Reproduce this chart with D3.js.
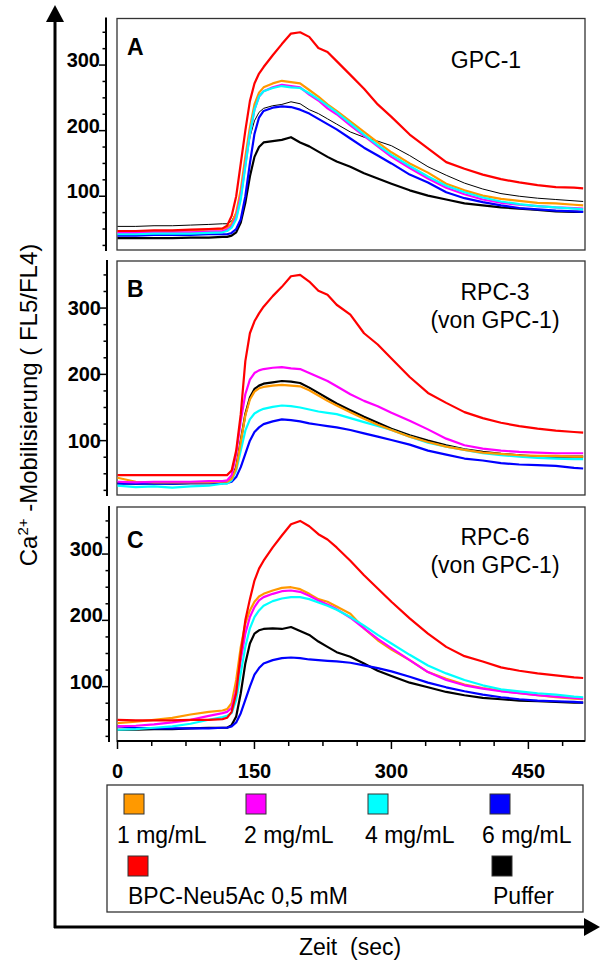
<!DOCTYPE html>
<html>
<head>
<meta charset="utf-8">
<script src="https://d3js.org/d3.v7.min.js"></script>
<style>
body { margin: 0; background: #fff; }
text { font-family: Arial, "Liberation Sans", sans-serif; fill: #000; }
</style>
</head>
<body>
<svg id="chart" width="600" height="963"></svg>
<script>
// time points (sec)
var zeit = [0,20,40,60,80,100,115,120,125,130,135,140,145,150,155,160,170,180,190,200,210,220,230,240,255,270,285,300,320,340,360,380,400,420,440,460,480,500,510];

// Panel A: GPC-1
var A_1mg  = [46,46,47,47,48,49,50,52,58,75,110,160,205,240,258,266,272,276,274,272,262,252,240,230,214,198,182,167,150,136,119,109,101,96,93,90,89,87,86];
var A_2mg  = [44,44,45,45,45,46,47,49,54,68,100,148,195,232,252,260,266,270,268,266,255,246,234,225,208,192,176,160,143,127,113,103,95,90,87,85,83,82,81];
var A_4mg  = [42,42,43,43,43,44,45,47,52,65,95,145,195,232,252,260,265,268,266,265,257,248,238,228,211,194,178,163,146,130,116,106,98,92,88,85,83,81,80];
var A_6mg  = [40,40,41,41,41,42,42,42,44,50,65,100,150,195,220,230,235,237,236,232,226,218,210,202,188,174,162,150,133,121,106,97,91,86,82,80,78,77,76];
var A_bpc  = [47,47,48,48,49,50,51,55,70,100,150,200,245,272,287,297,315,332,348,350,343,326,320,306,285,264,240,221,194,173,152,142,133,126,121,117,114,113,112];
var A_puffer  = [36,36,36,36,37,37,38,38,40,45,60,90,130,160,175,182,184,186,190,182,176,168,160,153,145,135,127,119,109,101,95,89,86,83,81,79,77,76,76];
var A_puffer2 = [54,54,55,55,56,57,58,58,62,75,105,150,190,215,228,234,238,240,244,241,232,226,218,210,198,190,184,177,162,145,132,120,111,104,100,97,95,93,92];

// Panel B: RPC-3 (von GPC-1)
var B_1mg  = [44,38,37,37,37,37,38,38,42,58,98,138,162,174,179,181,183,184,183,182,176,168,160,153,143,133,124,116,106,98,91,86,82,80,78,77,77,76,76];
var B_2mg  = [38,37,38,38,38,39,39,40,48,80,130,170,192,202,206,208,210,211,209,208,202,196,190,182,170,160,152,142,130,117,103,93,88,85,83,82,81,81,81];
var B_4mg  = [32,30,31,29,31,32,35,35,40,55,85,115,132,141,145,148,151,153,152,150,147,144,142,140,134,128,122,116,106,97,91,86,81,78,76,74,73,72,72];
var B_6mg  = [35,35,35,35,36,36,36,36,38,45,60,80,100,113,120,125,129,132,131,129,126,124,122,120,116,111,106,101,94,85,79,73,70,66,64,63,62,59,58];
var B_bpc  = [48,48,48,48,48,48,48,48,55,85,140,220,262,280,292,302,318,332,348,350,340,326,320,305,290,262,245,224,196,172,157,143,134,127,122,118,115,113,112];
var B_puffer = [36,35,36,35,36,36,36,37,42,60,100,140,165,178,183,186,188,190,189,187,180,172,164,156,146,136,127,118,108,100,93,87,83,80,78,76,76,76,76];

// Panel C: RPC-6 (von GPC-1)
var C_1mg  = [45,47,50,53,58,62,64,66,75,110,160,195,215,228,236,240,245,249,250,247,240,232,228,221,210,188,170,156,140,122,112,103,98,94,90,87,84,82,81];
var C_2mg  = [40,41,43,46,50,56,60,62,68,95,140,180,205,220,230,235,240,244,245,243,237,230,224,217,204,188,172,158,140,122,110,102,97,93,90,87,85,83,82];
var C_4mg  = [35,36,38,40,44,50,54,56,60,80,120,160,188,205,215,222,229,233,235,235,232,227,222,216,205,192,178,165,148,132,120,110,102,96,93,90,88,85,84];
var C_6mg  = [40,38,37,37,37,37,38,38,40,46,60,80,100,118,128,135,140,143,144,143,141,140,139,138,136,132,128,123,115,106,99,93,88,84,81,79,78,77,76];
var C_bpc  = [50,49,49,49,50,50,51,53,62,90,150,200,232,260,278,290,310,328,345,350,342,330,322,310,290,268,248,228,203,180,160,146,138,129,124,120,117,114,113];
var C_puffer = [35,35,36,36,37,38,38,38,42,55,90,135,165,180,185,187,188,187,190,184,178,168,160,152,145,135,124,116,106,99,92,87,83,81,79,78,77,76,76];

var yTicks = [100, 200, 300];
var xTicks = [0, 150, 300, 450];
var legendLabels = ['1 mg/mL', '2 mg/mL', '4 mg/mL', '6 mg/mL', 'BPC-Neu5Ac 0,5 mM', 'Puffer'];
var legendColors = ['#ff9900', '#ff00ff', '#00ffff', '#0000ff', '#ff0000', '#000000'];

var svg = d3.select('#chart');

// big outer axes
svg.append('line').attr('x1', 55).attr('y1', 18).attr('x2', 55).attr('y2', 928)
  .attr('stroke', '#000').attr('stroke-width', 3);
svg.append('path').attr('d', 'M55,5 L46,22 L64,22 Z').attr('fill', '#000');
svg.append('line').attr('x1', 54).attr('y1', 927).attr('x2', 588).attr('y2', 927)
  .attr('stroke', '#000').attr('stroke-width', 3);
svg.append('path').attr('d', 'M600,927 L584,918 L584,936 Z').attr('fill', '#000');

var x = d3.scaleLinear().domain([0, 512]).range([117.5, 585]);

var panels = [
  { letter: 'A', top: 18.5, bottom: 250, axisX: 106, letterY: 55, centred: false,
    titles: [{ t: 'GPC-1', x: 486, y: 68 }],
    series: [
      { d: A_puffer2, c: '#000', w: 1 },
      { d: A_puffer, c: '#000', w: 2.2 },
      { d: A_6mg, c: '#0000ff', w: 2.2 },
      { d: A_1mg, c: '#ff9900', w: 2.2 },
      { d: A_2mg, c: '#ff00ff', w: 2.2 },
      { d: A_4mg, c: '#00ffff', w: 2.2 },
      { d: A_bpc, c: '#ff0000', w: 2.2 }] },
  { letter: 'B', top: 261, bottom: 495, axisX: 107, letterY: 297, centred: true,
    titles: [{ t: 'RPC-3', x: 495, y: 300 }, { t: '(von GPC-1)', x: 495, y: 328 }],
    series: [
      { d: B_puffer, c: '#000', w: 2.2 },
      { d: B_6mg, c: '#0000ff', w: 2.2 },
      { d: B_4mg, c: '#00ffff', w: 2.2 },
      { d: B_1mg, c: '#ff9900', w: 2.2 },
      { d: B_2mg, c: '#ff00ff', w: 2.2 },
      { d: B_bpc, c: '#ff0000', w: 2.2 }] },
  { letter: 'C', top: 507, bottom: 741, axisX: 109, letterY: 548, centred: false,
    titles: [{ t: 'RPC-6', x: 495, y: 545 }, { t: '(von GPC-1)', x: 495, y: 573 }],
    series: [
      { d: C_puffer, c: '#000', w: 2.2 },
      { d: C_6mg, c: '#0000ff', w: 2.2 },
      { d: C_1mg, c: '#ff9900', w: 2.2 },
      { d: C_2mg, c: '#ff00ff', w: 2.2 },
      { d: C_4mg, c: '#00ffff', w: 2.2 },
      { d: C_bpc, c: '#ff0000', w: 2.2 }] }
];

panels.forEach(function (p) {
  var y = d3.scaleLinear().domain([18, 371]).range([p.bottom, p.top]);
  var g = svg.append('g');

  // frame
  g.append('rect').attr('x', 117).attr('y', p.top).attr('width', 468).attr('height', p.bottom - p.top)
    .attr('fill', 'none').attr('stroke', '#333').attr('stroke-width', 1.3);

  // y axis line with ticks
  g.append('line').attr('x1', p.axisX).attr('x2', p.axisX).attr('y1', p.top - 1).attr('y2', p.bottom + 1)
    .attr('stroke', '#000').attr('stroke-width', 2);
  var minor = d3.range(25, 371, 25).filter(function (v) { return v % 100 != 0; });
  g.selectAll('.minor').data(minor).enter().append('line')
    .attr('x1', p.axisX - 3.5).attr('x2', p.axisX)
    .attr('y1', function (d) { return y(d); }).attr('y2', function (d) { return y(d); })
    .attr('stroke', '#000').attr('stroke-width', 1.5);
  g.selectAll('.major').data(yTicks).enter().append('line')
    .attr('x1', p.axisX - 7).attr('x2', p.axisX)
    .attr('y1', function (d) { return y(d); }).attr('y2', function (d) { return y(d); })
    .attr('stroke', '#000').attr('stroke-width', 1.5);
  g.selectAll('.ylab').data(yTicks).enter().append('text')
    .attr('x', p.axisX - 6)
    .attr('y', function (d) { return p.centred ? y(d) : y(d) + 2; })
    .attr('dominant-baseline', p.centred ? 'central' : 'auto')
    .attr('text-anchor', 'end')
    .style('font-size', '20px').style('font-weight', 'bold')
    .text(function (d) { return d; });

  // curves
  var line = d3.line().x(function (d, i) { return x(zeit[i]); }).y(function (d) { return y(d); });
  p.series.forEach(function (s) {
    g.append('path').datum(s.d).attr('d', line)
      .attr('fill', 'none').attr('stroke', s.c).attr('stroke-width', s.w)
      .attr('stroke-linejoin', 'round');
  });

  // panel letter and title
  g.append('text').attr('x', 127).attr('y', p.letterY)
    .style('font-size', '23px').style('font-weight', 'bold').text(p.letter);
  p.titles.forEach(function (t) {
    g.append('text').attr('x', t.x).attr('y', t.y).attr('text-anchor', 'middle')
      .style('font-size', '23px').text(t.t);
  });
});

// x axis under panel C
var xa = svg.append('g');
xa.append('line').attr('x1', 117).attr('x2', 585).attr('y1', 741).attr('y2', 741)
  .attr('stroke', '#000').attr('stroke-width', 2);
xa.selectAll('.xminor').data(d3.range(0, 512, 37.5)).enter().append('line')
  .attr('x1', function (d) { return x(d); }).attr('x2', function (d) { return x(d); })
  .attr('y1', 741).attr('y2', function (d) { return d % 150 == 0 ? 749 : 746; })
  .attr('stroke', '#000').attr('stroke-width', 1.5);
xa.selectAll('.xlab').data(xTicks).enter().append('text')
  .attr('x', function (d) { return x(d); }).attr('y', 778)
  .attr('text-anchor', 'middle')
  .style('font-size', '20px').style('font-weight', 'bold')
  .text(function (d) { return d; });

// legend
var lg = svg.append('g');
lg.append('rect').attr('x', 107).attr('y', 785).attr('width', 476).attr('height', 127)
  .attr('fill', 'none').attr('stroke', '#333').attr('stroke-width', 1.3);
var legendPos = [
  { sx: 124, sy: 794, tx: 117, ty: 843 },
  { sx: 246, sy: 794, tx: 244, ty: 843 },
  { sx: 368, sy: 794, tx: 365, ty: 843 },
  { sx: 490, sy: 794, tx: 482, ty: 843 },
  { sx: 128, sy: 856, tx: 128, ty: 904 },
  { sx: 492, sy: 856, tx: 493, ty: 904 }];
legendLabels.forEach(function (l, i) {
  var p = legendPos[i];
  lg.append('rect').attr('x', p.sx).attr('y', p.sy).attr('width', 20).attr('height', 20)
    .attr('fill', legendColors[i]).attr('stroke', '#333').attr('stroke-width', 1);
  lg.append('text').attr('x', p.tx).attr('y', p.ty).style('font-size', '23px').text(l);
});

// axis titles
svg.append('text').attr('x', 350).attr('y', 955).attr('text-anchor', 'middle')
  .style('font-size', '23px').style('white-space', 'pre').attr('xml:space', 'preserve')
  .text('Zeit  (sec)');

var yl = svg.append('text').attr('transform', 'translate(37,405) rotate(-90)')
  .attr('text-anchor', 'middle').style('font-size', '24px');
yl.append('tspan').text('Ca');
yl.append('tspan').attr('dy', -9).style('font-size', '15px').text('2+');
yl.append('tspan').attr('dy', 9).text(' -Mobilisierung ( FL5/FL4)');
</script>
</body>
</html>
